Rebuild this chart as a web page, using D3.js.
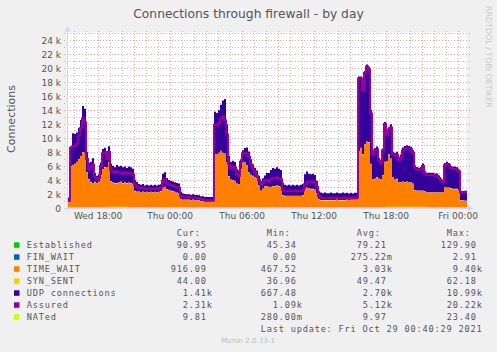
<!DOCTYPE html>
<html><head><meta charset="utf-8">
<script src="https://cdn.jsdelivr.net/npm/d3@7"></script>
<style>body{margin:0;background:#f0f0f0}svg{display:block}</style>
</head><body><svg id="c" width="497" height="352"></svg>
<script>
// ---- time base ----
const startTime = Date.UTC(2021, 9, 27, 15, 27);
const endTime = Date.UTC(2021, 9, 29, 0, 47);
const stepMinutes = 10;        // resolution of the detailed series
const coarseStepMinutes = 100; // resolution of the tiny series

// ---- series values (connections) ----
const timeWait = [
500,700,5900,6000,6200,6500,6900,7300,7900,7800,
5000,4000,3600,3400,3600,3400,3600,4600,5400,5700,
5600,6400,3700,3500,3400,3400,3500,3600,3400,3500,
3400,3500,3400,3300,2300,2200,2200,2100,2200,2100,
2200,2100,2200,2100,2200,2100,2200,2300,2800,2900,
2600,2500,2400,2300,2200,2100,2000,1200,1100,1100,
1100,1100,1000,1100,1000,1000,1000,900,900,800,
800,800,800,800,7600,7600,7800,8100,7800,7700,
6500,4500,4000,3900,3800,3400,3300,5500,6500,6400,
6000,5000,4700,4500,4300,4200,3200,2400,2700,3000,
3000,2900,2900,3000,3000,3100,3000,2900,1700,1600,
1600,1600,1600,1600,1600,1600,1600,1600,1700,2600,
2800,2700,2600,2600,2500,2000,1100,1000,1000,1000,
1000,1000,1000,1000,1000,1100,1000,1000,1000,1000,
1100,1000,1100,1100,1100,1100,8000,8500,7600,9000,
9400,9300,6200,4000,4100,4300,4100,4000,4600,6500,
6500,7500,6900,4200,3900,4000,3500,3500,3600,3500,
3600,3500,3500,3300,2400,2300,2300,2300,2300,2200,
2100,2100,2100,2100,2100,2100,2100,2100,2100,2800,
2800,2800,2700,2600,2600,2600,2400,1000,950,920,
916];
const udpConnections = [
670,700,2770,4570,4270,4170,4470,5170,6570,6270,
2870,2270,2870,3570,1270,1070,1070,1770,2870,2770,
2070,2270,2470,2370,2270,2570,2270,2270,2270,2270,
2170,2270,2270,2170,1570,1370,1070,1070,1070,970,
970,970,970,970,970,970,970,970,1970,2070,
1570,1370,1370,1370,1370,1370,1370,970,870,770,
770,770,770,770,770,770,700,690,680,680,
670,670,680,670,6070,5870,6070,6570,7470,7770,
5370,2870,2470,2770,2670,2070,1970,1370,1670,2070,
2570,2970,2170,1670,1370,1070,1270,1370,1470,1570,
1870,1970,2370,2570,2470,2570,2470,2370,1770,1570,
1470,1570,1470,1570,1470,1570,1470,1570,1570,2070,
2270,2070,2070,2170,2070,1770,1170,1070,970,1070,
970,970,1070,970,970,970,970,970,1070,970,
970,970,970,870,970,970,10670,10170,9770,10470,
10970,10770,7670,3870,4370,4370,2970,2670,3770,5670,
4170,3870,4870,3670,3770,3870,3470,3970,4870,5170,
5170,5170,5070,4770,3470,3370,3270,3370,3870,2870,
2770,2770,2770,2770,2670,2670,2370,1970,1770,3470,
3670,3470,3170,3170,3170,3070,2970,1300,1350,1400,
1410];
const assured = [
1100,1100,8600,8800,8900,9200,10400,11400,12800,12200,
7000,5500,5800,6200,4400,4100,4300,6000,7800,8000,
7000,8000,5400,5200,5000,5200,5100,5000,4900,5100,
4900,5000,5000,4800,3300,3100,2900,2800,2900,2700,
2800,2700,2800,2700,2800,2700,2800,2900,3900,4100,
3500,3400,3300,3200,3100,3000,2900,1700,1600,1600,
1500,1600,1500,1500,1500,1400,1400,1300,1200,1100,
1100,1100,1100,1100,11900,11800,12200,12800,13000,12500,
10500,6300,5600,5900,5800,4800,4600,6600,7800,7900,
7800,7300,6200,5500,5000,4600,4000,3300,3600,4000,
4000,3800,4100,4300,4300,4400,4200,4100,2600,2400,
2400,2500,2400,2400,2400,2500,2400,2400,2500,3400,
3700,3800,3700,3800,3600,3000,1700,1500,1400,1400,
1400,1400,1500,1400,1400,1500,1400,1400,1500,1400,
1500,1400,1500,1400,1500,1500,18500,18500,16800,19300,
20200,19800,13500,7600,8200,8400,6800,6400,8200,12000,
10400,11200,11500,7700,7500,7600,6800,7200,8200,8400,
8600,8500,8400,7900,5700,5500,5400,5500,6000,4900,
4700,4700,4700,4700,4600,4600,4300,3900,3700,6100,
6300,6100,5700,5600,5600,5500,5200,2200,2250,2300,
2310];
const established = [60,95,110,100,85,70,62,55,48,50,90,100,85,80,72,70,115,125,105,95,91];
const finWait     = [0,0,1,0,0,0,0,0,0,0,1,0,0,0,0,0,2,1,0,0,0];
const synSent     = [45,52,58,55,50,46,42,40,38,40,55,58,50,48,46,47,60,62,55,50,44];
const nated       = [3,12,18,15,12,8,5,2,1,2,12,14,10,9,8,8,20,22,15,12,10];

// ---- legend ----
const seriesNames  = ["Established","FIN_WAIT","TIME_WAIT","SYN_SENT","UDP connections","Assured","NATed"];
const seriesColors = ["#00CC00","#0066B3","#FF8000","#FFCC00","#330099","#990099","#CCFF00"];
const curVals = ["90.95","0.00","916.09","44.00","1.41k","2.31k","9.81"];
const minVals = ["45.34","0.00","467.52","36.96","667.48","1.09k","280.00m"];
const avgVals = ["79.21","275.22m","3.03k","49.47","2.70k","5.12k","9.97"];
const maxVals = ["129.90","2.91","9.40k","62.18","10.99k","20.22k","23.40"];
const lastUpdate = "Last update: Fri Oct 29 00:40:29 2021";

// ---- ticks ----
const yTicks = [0,2000,4000,6000,8000,10000,12000,14000,16000,18000,20000,22000,24000];
const yTickLabels = ["0","2 k","4 k","6 k","8 k","10 k","12 k","14 k","16 k","18 k","20 k","22 k","24 k"];
const xTickTimes = [Date.UTC(2021,9,27,18),Date.UTC(2021,9,28,0),Date.UTC(2021,9,28,6),Date.UTC(2021,9,28,12),Date.UTC(2021,9,28,18),Date.UTC(2021,9,29,0)];
const xTickLabels = ["Wed 18:00","Thu 00:00","Thu 06:00","Thu 12:00","Thu 18:00","Fri 00:00"];

// ---------------------------------------------------------------
const svg = d3.select("#c");
const FONT = "DejaVu Sans", MONO = "DejaVu Sans Mono", TXT = "#555";
svg.append("rect").attr("width",497).attr("height",352).attr("fill","#f0f0f0");

const x = d3.scaleUtc().domain([startTime, endTime]).range([67, 467]);
const y = d3.scaleLinear().domain([0, 25000]).range([208, 33]);

svg.append("rect").attr("x",67).attr("y",32.5).attr("width",400).attr("height",175.5).attr("fill","#fff");

// grid
const minorCol = "rgba(150,150,150,0.6)", majorCol = "rgba(225,90,90,0.55)";
const hours = d3.utcHour.range(new Date(startTime), new Date(endTime));
const gGrid = svg.append("g").attr("shape-rendering","crispEdges");
hours.forEach(h => {
  const major = h.getUTCHours() % 3 === 0;
  const xx = Math.round(x(h)) + 0.5;
  gGrid.append("line").attr("x1",xx).attr("x2",xx).attr("y1",31).attr("y2",211)
    .attr("stroke", major ? majorCol : minorCol).attr("stroke-dasharray","1,2");
});
d3.range(1000, 25001, 1000).forEach(v => {
  const major = v % 2000 === 0;
  const yy = Math.round(y(v)) + 0.5;
  gGrid.append("line").attr("x1",64).attr("x2",470).attr("y1",yy).attr("y2",yy)
    .attr("stroke", major ? majorCol : minorCol).attr("stroke-dasharray","1,2");
});

// data records
const records = timeWait.map((tw, i) => {
  const c = Math.floor(i * stepMinutes / coarseStepMinutes);
  return {t: startTime + i * stepMinutes * 60000,
    established: established[c], fin: finWait[c], tw: tw, syn: synSent[c],
    udp: udpConnections[i], assured: assured[i], nated: nated[c]};
});
const keys = ["established","fin","tw","syn","udp"];
const stackColors = seriesColors.slice(0,5);
const stacked = d3.stack().keys(keys)(records);
const area = d3.area().curve(d3.curveStep)
  .x(d => x(d.data.t)).y0(d => y(d[0])).y1(d => y(d[1]));
const gData = svg.append("g");
stacked.forEach((s, k) => {
  gData.append("path").datum(s).attr("d", area).attr("fill", stackColors[k]);
});
const line = key => d3.line().curve(d3.curveStep).x(d => x(d.t)).y(d => y(d[key]));
gData.append("path").datum(records).attr("d", line("assured"))
  .attr("fill","none").attr("stroke",seriesColors[5]).attr("stroke-width",2);

// axes lines + arrows
const axisCol = "#CFD6F8";
svg.append("line").attr("x1",64).attr("x2",469).attr("y1",208.5).attr("y2",208.5).attr("stroke",axisCol);
svg.append("line").attr("x1",67.5).attr("x2",67.5).attr("y1",211).attr("y2",31).attr("stroke",axisCol);
svg.append("path").attr("d","M468,205.5L473.5,208.5L468,211.5Z").attr("fill",axisCol);
svg.append("path").attr("d","M64.5,31.5L67.5,26L70.5,31.5Z").attr("fill",axisCol);

gData.append("path").datum(records).attr("d", line("nated"))
  .attr("fill","none").attr("stroke",seriesColors[6]).attr("stroke-width",2);

// tick labels via d3 axes
const gy = svg.append("g").attr("transform","translate(67,0)")
  .call(d3.axisLeft(y).tickValues(yTicks).tickFormat((d,i) => yTickLabels[i]).tickSize(0).tickPadding(6));
gy.select(".domain").remove();
gy.selectAll("text").attr("font-family",FONT).attr("font-size",9).attr("fill",TXT).attr("dy","3.9px");
const gx = svg.append("g").attr("transform","translate(0,208)")
  .call(d3.axisBottom(x).tickValues(xTickTimes).tickFormat((d,i) => xTickLabels[i]).tickSize(0).tickPadding(5));
gx.select(".domain").remove();
gx.selectAll("text").attr("font-family",FONT).attr("font-size",9).attr("fill",TXT);

// title, y label, watermark
svg.append("text").attr("x",248.5).attr("y",17.5).attr("text-anchor","middle")
  .attr("font-family",FONT).attr("font-size",12.3).attr("fill",TXT).text("Connections through firewall - by day");
svg.append("text").attr("transform","translate(15,119) rotate(-90)").attr("text-anchor","middle")
  .attr("font-family",FONT).attr("font-size",11).attr("fill",TXT).text("Connections");
svg.append("text").attr("transform","translate(485.5,6) rotate(90)")
  .attr("font-family",FONT).attr("font-size",7.9).attr("fill","#c8c8c8").text("RRDTOOL / TOBI OETIKER");

// legend
const legX0 = 26.7, cw = 6, row0 = 248.3, rowH = 12, mfs = 8.6;
const gLeg = svg.append("g").attr("font-family",MONO).attr("font-size",mfs)
  .attr("fill",TXT).attr("letter-spacing", (cw - mfs*0.602).toFixed(2) + "px");
const mono = (txt, col, yb) => gLeg.append("text").attr("x", legX0 + cw*col).attr("y", yb).text(txt);
mono("Cur:",25,row0-12); mono("Min:",40,row0-12); mono("Avg:",55,row0-12); mono("Max:",70,row0-12);
const valCol = (v, endCol, yb) => {
  const m = v.match(/^([0-9.]+)([a-zA-Z]?)$/);
  mono(m[1], endCol - m[1].length, yb);
  if (m[2]) mono(m[2], endCol, yb);
};
seriesNames.forEach((n, i) => {
  const yb = row0 + i*rowH;
  svg.append("rect").attr("x",14).attr("y",yb-6).attr("width",5.5).attr("height",5.5).attr("fill",seriesColors[i]);
  mono(n, 0, yb);
  valCol(curVals[i], 30, yb); valCol(minVals[i], 45, yb);
  valCol(avgVals[i], 60, yb); valCol(maxVals[i], 75, yb);
});
mono(lastUpdate, 39, row0 + 7*rowH);
svg.append("text").attr("x",248).attr("y",343).attr("text-anchor","middle")
  .attr("font-family",FONT).attr("font-size",7.2).attr("fill","#bbb").text("Munin 2.0.33-1");
</script></body></html>
